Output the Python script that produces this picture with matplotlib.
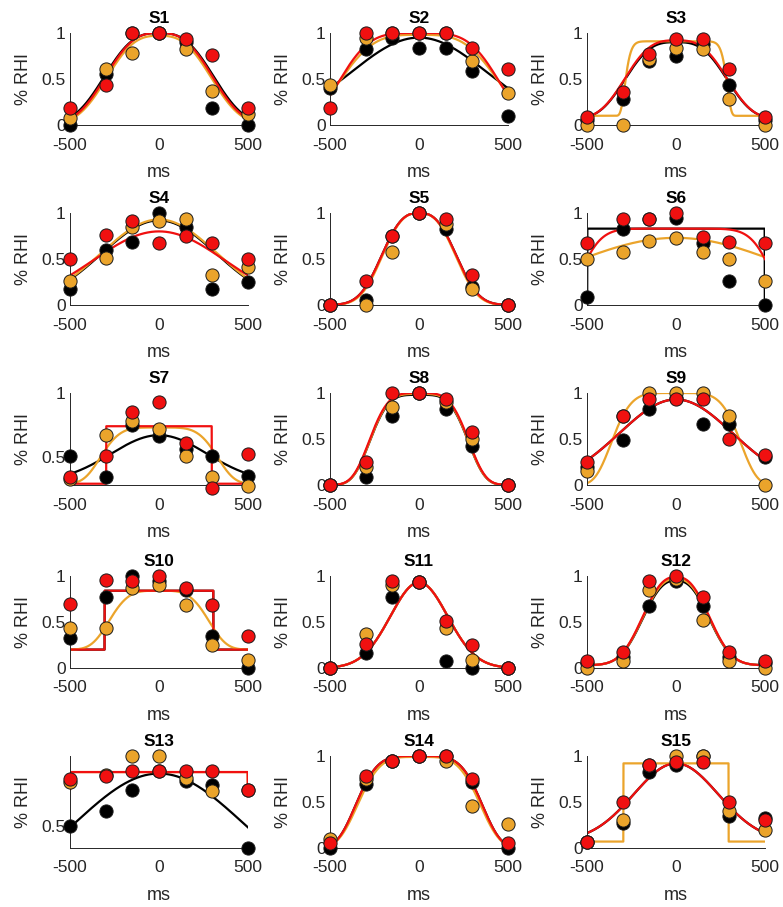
import numpy as np
import matplotlib
matplotlib.use('Agg')
import matplotlib.pyplot as plt

plt.rcParams['font.family'] = ['Liberation Sans', 'DejaVu Sans']

# Sampled delays (ms) and the three conditions' %RHI per subject.
times = [-500, -300, -150, 0, 150, 300, 500]
subjects = ['S%d' % i for i in range(1, 16)]

black_pts = [
    [0.00, 0.55, 1.00, 1.00, 0.90, 0.19, 0.00],
    [0.40, 0.83, 0.95, 0.84, 0.84, 0.59, 0.10],
    [0.05, 0.28, 0.70, 0.75, 0.88, 0.43, 0.05],
    [0.17, 0.60, 0.69, 1.00, 0.85, 0.17, 0.25],
    [0.00, 0.05, 0.75, 1.00, 0.83, 0.20, 0.00],
    [0.09, 0.83, 0.93, 0.95, 0.67, 0.26, 0.00],
    [0.51, 0.34, 0.75, 0.66, 0.56, 0.51, 0.35],
    [0.00, 0.09, 0.75, 1.00, 0.83, 0.42, 0.00],
    [0.20, 0.49, 0.83, 0.95, 0.66, 0.66, 0.30],
    [0.33, 0.77, 1.00, 0.95, 0.85, 0.35, 0.00],
    [0.00, 0.16, 0.77, 0.94, 0.08, 0.00, 0.00],
    [0.05, 0.12, 0.67, 0.95, 0.67, 0.12, 0.05],
    [0.50, 0.60, 0.75, 0.88, 0.81, 0.78, 0.35],
    [0.00, 0.70, 0.95, 1.00, 1.00, 0.72, 0.00],
    [0.07, 0.27, 0.83, 0.90, 1.00, 0.35, 0.33],
]
orange_pts = [
    [0.08, 0.61, 0.78, 1.00, 0.83, 0.37, 0.12],
    [0.44, 0.95, 1.00, 1.00, 1.00, 0.70, 0.35],
    [0.00, 0.00, 0.72, 0.84, 0.83, 0.28, 0.00],
    [0.26, 0.51, 0.85, 0.91, 0.93, 0.33, 0.41],
    [0.00, 0.00, 0.58, 1.00, 0.88, 0.17, 0.00],
    [0.50, 0.58, 0.70, 0.73, 0.58, 0.50, 0.26],
    [0.33, 0.67, 0.78, 0.72, 0.51, 0.34, 0.27],
    [0.00, 0.20, 0.85, 1.00, 0.90, 0.50, 0.00],
    [0.15, 0.75, 1.00, 1.00, 1.00, 0.75, 0.00],
    [0.43, 0.43, 0.87, 0.90, 0.68, 0.25, 0.09],
    [0.00, 0.37, 0.90, 0.94, 0.43, 0.09, 0.00],
    [0.00, 0.08, 0.85, 0.97, 0.52, 0.08, 0.00],
    [0.80, 0.85, 0.98, 0.98, 0.83, 0.74, 0.75],
    [0.10, 0.75, 0.95, 1.00, 0.95, 0.46, 0.26],
    [0.07, 0.30, 0.90, 1.00, 1.00, 0.40, 0.20],
]
red_pts = [
    [0.19, 0.43, 1.00, 1.00, 0.93, 0.76, 0.18],
    [0.19, 1.00, 1.00, 1.00, 1.00, 0.84, 0.61],
    [0.09, 0.36, 0.77, 0.93, 0.94, 0.61, 0.09],
    [0.50, 0.76, 0.91, 0.67, 0.75, 0.67, 0.50],
    [0.00, 0.26, 0.75, 1.00, 0.93, 0.33, 0.00],
    [0.67, 0.93, 0.93, 1.00, 0.74, 0.68, 0.67],
    [0.34, 0.51, 0.85, 0.93, 0.61, 0.26, 0.52],
    [0.00, 0.25, 1.00, 1.00, 0.93, 0.58, 0.00],
    [0.25, 0.75, 0.93, 0.93, 0.93, 0.50, 0.33],
    [0.70, 0.96, 0.95, 1.00, 0.87, 0.68, 0.35],
    [0.00, 0.26, 0.95, 0.94, 0.51, 0.25, 0.00],
    [0.08, 0.17, 0.95, 1.00, 0.77, 0.17, 0.08],
    [0.82, 0.84, 0.88, 0.88, 0.88, 0.88, 0.75],
    [0.05, 0.78, 0.95, 1.00, 1.00, 0.75, 0.05],
    [0.07, 0.50, 0.90, 0.93, 0.93, 0.50, 0.30],
]

# Fitted tuning curves: ('g', base, amp, width, power) or ('box', base, amp, half-width)
black_fit = [
    ('g', 0.0, 1.00, 360, 2.8), ('g', 0.0, 0.95, 537, 2.0), ('g', 0.06, 0.84, 330, 3.0),
    ('g', 0.0, 0.92, 456, 2.0), ('g', 0.0, 1.00, 250, 2.7), ('box', 0.0, 0.83, 498),
    ('g', 0.30, 0.37, 382, 2.0), ('g', 0.0, 0.98, 300, 4.0), ('g', 0.0, 0.93, 449, 2.0),
    ('box', 0.20, 0.64, 305), ('g', 0.0, 0.93, 227, 2.0), ('g', 0.03, 0.92, 230, 2.5),
    ('g', 0.0, 0.86, 668, 2.0), ('g', 0.0, 1.00, 378, 4.5), ('g', 0.07, 0.85, 335, 2.0),
]
orange_fit = [
    ('g', 0.0, 0.97, 345, 2.8), ('g', 0.0, 0.98, 490, 3.5), ('g', 0.10, 0.81, 290, 14.0),
    ('g', 0.0, 0.93, 460, 2.0), ('g', 0.0, 1.00, 245, 2.7), ('g', 0.0, 0.73, 857, 2.0),
    ('g', 0.29, 0.44, 350, 4.6), ('g', 0.0, 0.99, 300, 4.0), ('g', 0.0, 1.00, 382, 5.1),
    ('g', 0.20, 0.64, 305, 3.9), ('g', 0.0, 0.93, 227, 2.0), ('g', 0.03, 0.94, 230, 2.5),
    ('box', 0.75, 0.12, 498), ('g', 0.0, 0.99, 370, 4.2), ('box', 0.07, 0.85, 295),
]
red_fit = [
    ('g', 0.0, 1.00, 352, 2.8), ('g', 0.0, 1.00, 484, 4.0), ('g', 0.06, 0.86, 330, 3.0),
    ('g', 0.0, 0.80, 524, 2.0), ('g', 0.0, 1.00, 250, 2.7), ('g', 0.0, 0.83, 548, 7.35),
    ('box', 0.29, 0.45, 296), ('g', 0.0, 1.00, 302, 4.0), ('g', 0.0, 0.93, 449, 2.0),
    ('box', 0.20, 0.64, 305), ('g', 0.0, 0.93, 227, 2.0), ('g', 0.03, 0.96, 230, 2.5),
    ('box', 0.75, 0.12, 498), ('g', 0.0, 1.00, 378, 4.5), ('g', 0.07, 0.85, 335, 2.0),
]

ylims = [(0, 1)] * 15
ylims[6] = (0.28, 1)
ylims[12] = (0.35, 0.98)

colors = ['#000000', '#EBA42B', '#F01010']


def fit_curve(x, spec):
    if spec[0] == 'box':
        base, amp, half = spec[1:]
        return np.where(np.abs(x) <= half, base + amp, base)
    base, amp, w, p = spec[1:]
    return base + amp * np.exp(-(np.abs(x) / w) ** p)


W, H = 783, 907
fig = plt.figure(figsize=(W / 100, H / 100), dpi=100)

col_left = [70, 330, 587]
row_top = [33, 213, 393, 576, 756]
ax_w, ax_h = 178, 92
xs = np.linspace(-500, 500, 1001)
axcol = '#262626'

for k in range(15):
    r, c = divmod(k, 3)
    ax = fig.add_axes([col_left[c] / W, 1 - (row_top[r] + ax_h) / H, ax_w / W, ax_h / H])

    series = [(black_pts, black_fit), (orange_pts, orange_fit), (red_pts, red_fit)]
    for (pts, fits), col in zip(series, colors):
        ax.plot(xs, fit_curve(xs, fits[k]), color=col, lw=1.6, zorder=2)
        ax.plot(times, pts[k], 'o', ms=9.5, mfc=col, mec='#1a1a1a', mew=0.7,
                clip_on=False, zorder=3)

    ax.set_xlim(-500, 500)
    ax.set_ylim(*ylims[k])
    ax.set_xticks([-500, 0, 500])
    ax.set_xticklabels(['-500', '0', '500'])
    yt = [t for t in [0, 0.5, 1] if ylims[k][0] <= t <= ylims[k][1]]
    ax.set_yticks(yt)
    ax.set_yticklabels(['%g' % t for t in yt])

    for side in ['top', 'right']:
        ax.spines[side].set_visible(False)
    for side in ['left', 'bottom']:
        ax.spines[side].set_color(axcol)
        ax.spines[side].set_linewidth(0.7)
    ax.tick_params(direction='in', length=0, labelsize=12.5, colors=axcol)
    ax.tick_params(axis='x', pad=9)
    ax.tick_params(axis='y', pad=3)

    ax.set_title(subjects[k], fontsize=12.5, fontweight='bold', pad=7)
    ax.set_xlabel('ms', fontsize=13, color=axcol, labelpad=8)
    ax.set_ylabel('% RHI', fontsize=13, color=axcol, labelpad=7)

fig.savefig('out.png', dpi=100)
